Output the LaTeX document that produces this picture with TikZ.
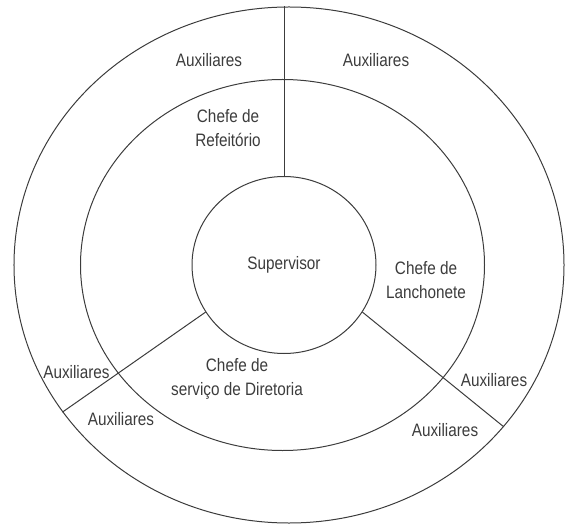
\documentclass[tikz,border=0pt]{standalone}
\usepackage{fontspec}
\setmainfont{Liberation Sans}[FakeStretch=0.85]
\usetikzlibrary{shapes.geometric}
\definecolor{ink}{HTML}{3C3C3C}
\begin{document}
\begin{tikzpicture}[x=1pt,y=1pt,
    ring/.style={draw=ink, line width=1pt, ellipse, inner sep=0pt},
    lbl/.style={text=ink, align=center, font=\fontsize{18}{24}\selectfont}]
    \useasboundingbox (-284,-259) rectangle (285,265);

    \node[ring, minimum width=550pt, minimum height=516pt] (outer) at (5,0) {};
    \node[ring, minimum width=404pt, minimum height=371pt] (middle) at (-1.5,0) {};
    \node[ring, lbl, minimum width=184pt, minimum height=177pt] (sup) at (0,0) {Supervisor};

    \draw[line width=1pt, ink] (sup.north) -- (sup.north |- outer.north);
    \draw[line width=1pt, ink] (sup.211.7) -- (outer.213.6);
    \draw[line width=1pt, ink] (sup.-31) -- (outer.-37.8);

    \node[lbl] (refeitorio) at (-56,136.7) {Chefe de\\Refeitório};
    \node[lbl] (lanchonete) at (142,-15) {Chefe de\\Lanchonete};
    \node[lbl] (diretoria) at (-47,-113.7) {Chefe de\\serviço de Diretoria};

    \node[lbl] (auxTL) at (-75,205) {Auxiliares};
    \node[lbl] (auxTR) at (92,205) {Auxiliares};
    \node[lbl] (auxL) at (-207.5,-107) {Auxiliares};
    \node[lbl] (auxLL) at (-163,-154) {Auxiliares};
    \node[lbl] (auxR) at (210,-115) {Auxiliares};
    \node[lbl] (auxLR) at (161,-165) {Auxiliares};
\end{tikzpicture}
\end{document}
